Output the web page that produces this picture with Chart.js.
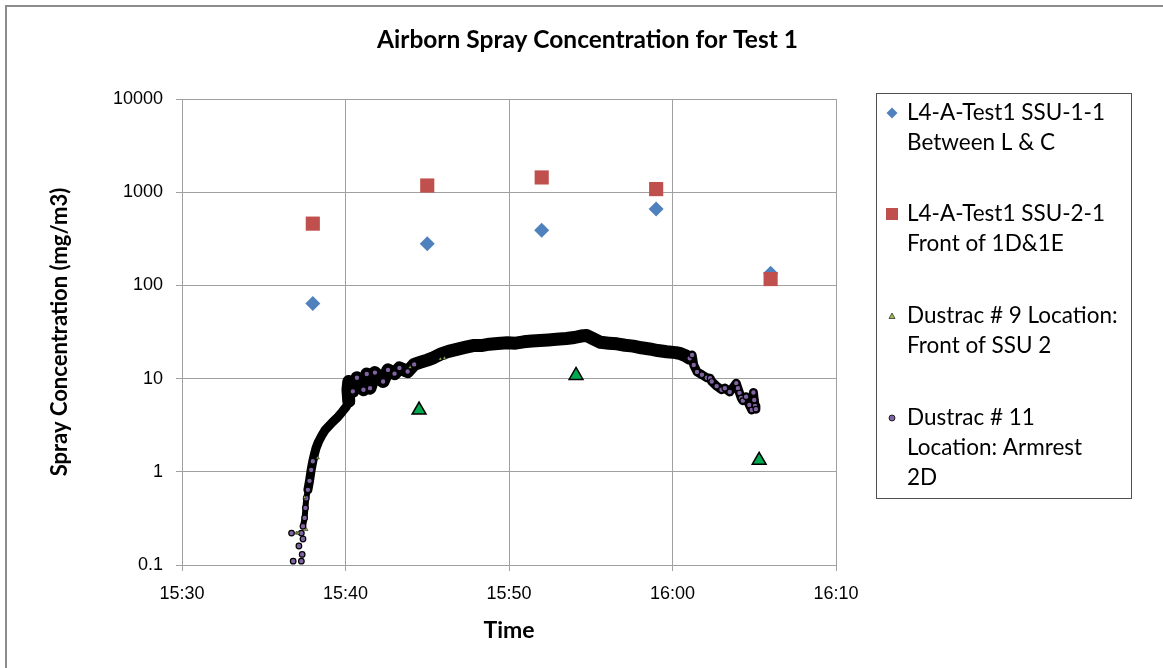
<!DOCTYPE html>
<html>
<head>
<meta charset="utf-8">
<script src="https://cdn.jsdelivr.net/npm/chart.js@4"></script>
<style>
  html, body { margin: 0; padding: 0; background: #fff; }
</style>
</head>
<body>
<canvas id="canvas" width="1163" height="668"></canvas>
<script>
// times are minutes after 15:00
const ssuTimes = [38, 45, 52, 59, 66]
const ssu1Values = [64, 280, 390, 660, 135]
const ssu2Values = [460, 1180, 1440, 1080, 117]

const dustrac9Times = [37.0, 37.1, 37.5, 37.6, 38.3, 43.95, 45.8, 46.05]
const dustrac9Values = [0.22, 0.22, 0.53, 0.24, 1.41, 13.2, 16.2, 16.6]

const dustrac9AvgTimes = [44.5, 54.1, 65.3]
const dustrac9AvgValues = [4.6, 10.8, 1.33]

const dustrac11Times = [
  36.8, 37.3, 37.35, 36.7, 37.15, 37.4, 37.3, 37.4, 37.5, 37.55,
  37.6, 37.7, 37.8, 37.9, 38.0, 38.1, 38.2, 38.35, 38.55, 38.75,
  38.95, 39.2, 39.55, 39.8, 40.05, 40.2, 40.15, 40.2, 40.45, 40.7,
  41.1, 41.3, 41.5, 41.8, 42.3, 42.6, 43.0, 43.3, 43.8, 44.2,
  44.6, 45.0, 45.4, 45.8, 46.3, 46.8, 47.3, 47.8, 48.3, 48.8,
  49.3, 49.9, 50.4, 50.9, 51.4, 51.9, 52.4, 52.9, 53.5, 54.0,
  54.4, 54.75, 55.1, 55.6, 56.1, 56.6, 57.1, 57.6, 58.1, 58.6,
  59.1, 59.65, 60.2, 60.5, 60.8, 61.05, 61.2, 61.3, 61.5, 61.8,
  62.1, 62.3, 62.4, 62.7, 63.0, 63.2, 63.5, 63.9, 64.0, 64.1,
  64.2, 64.3, 64.5, 64.7, 64.85, 64.95, 65.0, 65.05, 65.1
]
const dustrac11Values = [
  0.11, 0.11, 0.13, 0.22, 0.16, 0.19, 0.22, 0.26, 0.32, 0.41,
  0.52, 0.64, 0.80, 1.05, 1.3, 1.55, 1.8, 2.1, 2.45, 2.8,
  3.05, 3.4, 3.9, 4.4, 5.0, 5.7, 7.6, 9.3, 7.3, 10.2,
  7.6, 11.2, 7.9, 11.6, 9.3, 12.4, 11.3, 13.0, 11.9, 14.2,
  15.0, 15.8, 16.8, 18.3, 19.6, 20.6, 21.6, 22.6, 22.6, 23.4,
  23.8, 24.2, 24.0, 24.8, 25.3, 25.6, 26.0, 26.4, 26.9, 27.6,
  28.6, 29.0, 27.0, 24.5, 24.0, 23.6, 22.8, 22.3, 21.4, 20.8,
  20.0, 19.4, 19.0, 18.5, 17.6, 16.5, 17.9, 14.0, 11.8, 11.0,
  10.2, 10.1, 9.3, 8.3, 7.6, 7.9, 7.2, 8.9, 7.9, 7.0,
  6.2, 5.8, 6.4, 5.2, 4.6, 7.1, 5.9, 5.1, 4.7
]

const yTickValues = [0.1, 1, 10, 100, 1000, 10000]

const legendLabels = [
  ['L4-A-Test1 SSU-1-1', 'Between L & C'],
  ['L4-A-Test1 SSU-2-1', 'Front of 1D&1E'],
  ['Dustrac # 9 Location:', 'Front of SSU 2'],
  ['Dustrac # 11', 'Location: Armrest', '2D']
]

const pairs = (xs, ys) => xs.map((x, i) => ({ x: x, y: ys[i] }))

const fmtTime = v => {
  const h = 15 + Math.floor(v / 60)
  const m = v % 60
  return h + ':' + String(m).padStart(2, '0')
}

const titleFont = 'Lato'
const tickFont = { family: 'Liberation Sans', size: 18 }

const data = {
  datasets: [
    {
      label: legendLabels[0].join(' '),
      data: pairs(ssuTimes, ssu1Values),
      pointStyle: 'rectRot',
      pointRadius: 7.5,
      backgroundColor: '#4f81bd',
      borderColor: '#4f81bd',
      borderWidth: 0,
      order: 5,
    },
    {
      label: legendLabels[1].join(' '),
      data: pairs(ssuTimes, ssu2Values),
      pointStyle: 'rect',
      pointRadius: 10,
      backgroundColor: '#c0504d',
      borderColor: '#c0504d',
      borderWidth: 0,
      order: 4,
    },
    {
      label: legendLabels[2].join(' '),
      data: pairs(dustrac9Times, dustrac9Values),
      pointStyle: 'triangle',
      pointRadius: 2,
      backgroundColor: '#9bbb59',
      borderColor: '#000',
      borderWidth: 0.5,
      order: 1,
    },
    {
      label: legendLabels[3].join(' '),
      data: pairs(dustrac11Times, dustrac11Values),
      showLine: true,
      borderColor: '#000',
      borderWidth: 13,
      borderCapStyle: 'round',
      borderJoinStyle: 'round',
      segment: {
        borderColor: ctx => ctx.p0DataIndex < 7 ? 'rgba(0,0,0,0)' : '#000',
        borderWidth: ctx => {
          const x = ctx.p0.parsed.x
          if (x < 37.7) return 6
          if (x < 40.1) return 9
          if (x > 61) return 9
          return 13
        },
      },
      pointRadius: ctx => {
        const x = ctx.raw ? ctx.raw.x : 50
        return (x < 38.05 || (x > 40.3 && x < 44.5) || x > 61) ? 2.8 : 0
      },
      pointBackgroundColor: '#8064a2',
      pointBorderColor: '#000',
      pointBorderWidth: 1.2,
      order: 2,
    },
    {
      label: 'Dustrac # 9 average',
      data: pairs(dustrac9AvgTimes, dustrac9AvgValues),
      pointStyle: 'triangle',
      pointRadius: 8,
      backgroundColor: '#00a84f',
      borderColor: '#000',
      borderWidth: 1.5,
      order: 0,
    },
  ],
}

function drawMarker(ctx, kind, x, y) {
  ctx.beginPath()
  if (kind === 0) {
    ctx.fillStyle = '#4f81bd'
    ctx.moveTo(x, y - 5.5); ctx.lineTo(x + 5.5, y); ctx.lineTo(x, y + 5.5); ctx.lineTo(x - 5.5, y)
    ctx.closePath(); ctx.fill()
  } else if (kind === 1) {
    ctx.fillStyle = '#c0504d'
    ctx.fillRect(x - 6, y - 6, 12, 12)
  } else if (kind === 2) {
    ctx.fillStyle = '#9bbb59'
    ctx.strokeStyle = '#000'
    ctx.lineWidth = 0.6
    ctx.moveTo(x, y - 3); ctx.lineTo(x + 3, y + 2.5); ctx.lineTo(x - 3, y + 2.5)
    ctx.closePath(); ctx.fill(); ctx.stroke()
  } else {
    ctx.fillStyle = '#8064a2'
    ctx.strokeStyle = '#000'
    ctx.lineWidth = 0.8
    ctx.arc(x, y, 3, 0, Math.PI * 2)
    ctx.fill(); ctx.stroke()
  }
}

const sideLegend = {
  id: 'sideLegend',
  afterDraw(chart) {
    const ctx = chart.ctx
    ctx.save()
    // outer frame (only left and top edges are visible)
    ctx.strokeStyle = '#8c8c8c'
    ctx.lineWidth = 2
    ctx.strokeRect(6, 6, 1200, 700)
    // legend box
    ctx.strokeStyle = '#505050'
    ctx.lineWidth = 1
    ctx.strokeRect(876.5, 93.5, 255, 405)
    ctx.font = '22.5px ' + titleFont
    ctx.textBaseline = 'middle'
    ctx.textAlign = 'left'
    const tops = [113, 214, 316, 418]
    legendLabels.forEach((lines, i) => {
      ctx.fillStyle = '#000'
      lines.forEach((t, j) => ctx.fillText(t, 907, tops[i] + j * 30))
      drawMarker(ctx, i, 892, tops[i])
    })
    ctx.restore()
  },
}

const boldFont = { family: titleFont, size: 23, weight: 'bold' }

const config = {
  type: 'scatter',
  data: data,
  options: {
    responsive: false,
    animation: false,
    layout: { padding: { left: 12, right: 0, top: 0, bottom: 0 } },
    plugins: {
      legend: { display: false },
      tooltip: { enabled: false },
      title: {
        display: true,
        text: 'Airborn Spray Concentration for Test 1',
        color: '#000',
        font: { family: titleFont, size: 24.5, weight: 'bold' },
        padding: { top: 25, bottom: 44.6 },
      },
    },
    scales: {
      x: {
        type: 'linear',
        min: 30,
        max: 70,
        ticks: { stepSize: 10, callback: v => fmtTime(v), color: '#000', font: tickFont, padding: 12, maxRotation: 0 },
        grid: { color: '#a0a0a0', tickLength: 6 },
        border: { color: '#a0a0a0' },
        title: {
          display: true,
          text: 'Time',
          color: '#000',
          font: boldFont,
          padding: { top: 0, bottom: 24 },
        },
        afterFit: s => { s.height = 103 },
      },
      y: {
        type: 'logarithmic',
        min: 0.1,
        max: 10000,
        afterBuildTicks: s => { s.ticks = yTickValues.map(v => ({ value: v })) },
        ticks: { callback: v => (v < 1 ? String(v) : String(Math.round(v))), color: '#000', font: tickFont, padding: 13 },
        grid: { color: '#a0a0a0', tickLength: 6 },
        border: { color: '#a0a0a0' },
        title: {
          display: true,
          text: 'Spray Concentration (mg/m3)',
          color: '#000',
          font: { family: titleFont, size: 22, weight: 'bold' },
          padding: { top: 35, bottom: 0 },
        },
        afterFit: s => { s.width = 170 },
      },
      // empty axis that only reserves room for the legend box
      side: {
        type: 'linear',
        position: 'right',
        display: true,
        ticks: { display: false },
        grid: { display: false },
        border: { display: false },
        afterFit: s => { s.width = 327 },
      },
    },
  },
  plugins: [sideLegend],
}

const canvas = document.getElementById('canvas')
const chart = new Chart(canvas, config)
</script>
</body>
</html>
